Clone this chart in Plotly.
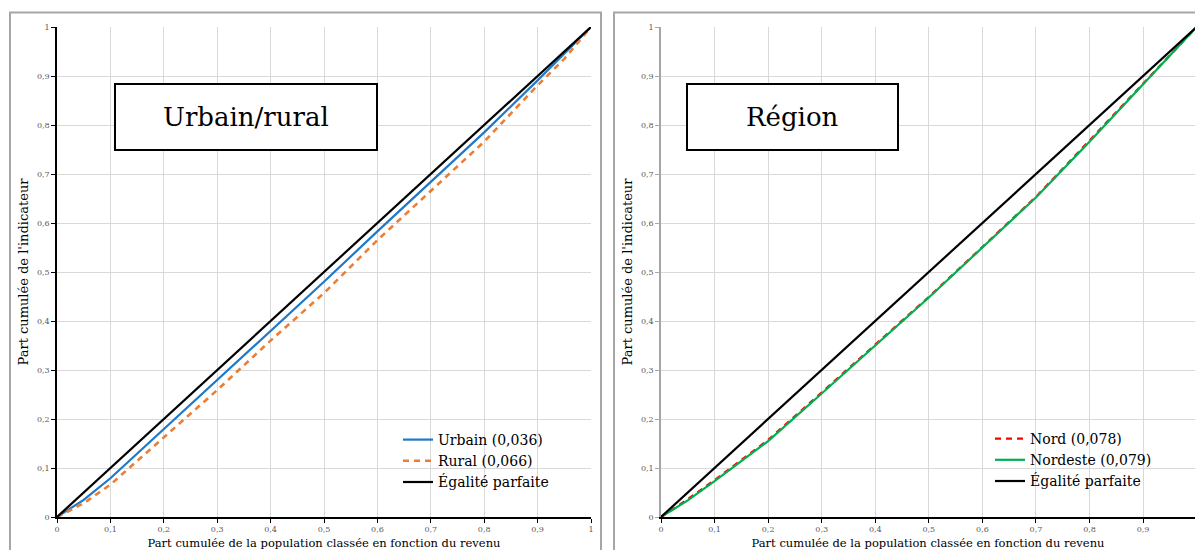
import plotly.graph_objects as go

# Data
p_urb = [0, 0.05, 0.1, 0.2, 0.3, 0.4, 0.5, 0.6, 0.7, 0.8, 0.9, 0.95, 1]
urbain = [0, 0.035, 0.079, 0.179, 0.280, 0.379, 0.480, 0.583, 0.684, 0.785, 0.891, 0.945, 1]
rural = [0, 0.028, 0.066, 0.163, 0.259, 0.360, 0.457, 0.565, 0.666, 0.766, 0.881, 0.935, 1]

p_reg = [0, 0.05, 0.1, 0.2, 0.3, 0.4, 0.5, 0.6, 0.7, 0.8, 0.9, 0.95, 1]
nord = [0, 0.036, 0.075, 0.157, 0.254, 0.351, 0.449, 0.551, 0.653, 0.768, 0.885, 0.943, 1]
nordeste = [0, 0.034, 0.073, 0.155, 0.252, 0.350, 0.448, 0.550, 0.652, 0.766, 0.884, 0.942, 1]

egalite = [0, 1]

tick_vals = [0, 0.1, 0.2, 0.3, 0.4, 0.5, 0.6, 0.7, 0.8, 0.9, 1]
tick_text = ["0", "0,1", "0,2", "0,3", "0,4", "0,5", "0,6", "0,7", "0,8", "0,9", "1"]

labels_left = ["Urbain (0,036)", "Rural (0,066)", "Égalité parfaite"]
labels_right = ["Nord (0,078)", "Nordeste (0,079)", "Égalité parfaite"]
panel_titles = ["Urbain/rural", "Région"]

x_title = "Part cumulée de la population classée en fonction du revenu"
y_title = "Part cumulée de l'indicateur"

W, H = 1195, 550
FONT = "DejaVu Serif"

fig = go.Figure()

fig.add_trace(go.Scatter(x=p_urb, y=urbain, mode="lines", name=labels_left[0],
                         line=dict(color="#1F78C8", width=2.2), xaxis="x", yaxis="y", legend="legend"))
fig.add_trace(go.Scatter(x=p_urb, y=rural, mode="lines", name=labels_left[1],
                         line=dict(color="#ED7D31", width=2.6, dash="6px,5px"), xaxis="x", yaxis="y", legend="legend"))
fig.add_trace(go.Scatter(x=egalite, y=egalite, mode="lines", name=labels_left[2],
                         line=dict(color="#000000", width=2.2), xaxis="x", yaxis="y", legend="legend"))

fig.add_trace(go.Scatter(x=p_reg, y=nord, mode="lines", name=labels_right[0],
                         line=dict(color="#FF0000", width=2.4, dash="6px,5px"), xaxis="x2", yaxis="y2", legend="legend2"))
fig.add_trace(go.Scatter(x=p_reg, y=nordeste, mode="lines", name=labels_right[1],
                         line=dict(color="#00B050", width=2.2), xaxis="x2", yaxis="y2", legend="legend2"))
fig.add_trace(go.Scatter(x=egalite, y=egalite, mode="lines", name=labels_right[2],
                         line=dict(color="#000000", width=2.2), xaxis="x2", yaxis="y2", legend="legend2"))

ydom = [1 - 517 / H, 1 - 27 / H]
xdom1 = [57 / W, 591 / W]
xdom2 = [661 / W, 1.0]

def xaxis(dom, anchor, rng):
    return dict(domain=dom, anchor=anchor, range=rng, tickvals=tick_vals, ticktext=tick_text,
                showgrid=True, gridcolor="#D9D9D9", gridwidth=1, zeroline=False,
                showline=True, linecolor="#000000", linewidth=1.5,
                ticks="outside", ticklen=4, tickcolor="#000000",
                tickfont=dict(family=FONT, size=8, color="#595959"),
                title=dict(text=x_title, font=dict(family=FONT, size=11.5, color="#000000"), standoff=7),
                automargin=False, fixedrange=True)

def yaxis(anchor, linecolor):
    return dict(domain=ydom, anchor=anchor, range=[0, 1], tickvals=tick_vals, ticktext=tick_text,
                showgrid=True, gridcolor="#D9D9D9", gridwidth=1, zeroline=False,
                showline=True, linecolor=linecolor, linewidth=1.5,
                ticks="outside", ticklen=4, tickcolor=linecolor,
                tickfont=dict(family=FONT, size=8, color="#595959"),
                title=dict(text=y_title, font=dict(family=FONT, size=13, color="#000000"), standoff=5),
                automargin=False, fixedrange=True)

legend_common = dict(bgcolor="rgba(0,0,0,0)", borderwidth=0,
                     font=dict(family=FONT, size=14, color="#000000"),
                     tracegroupgap=0, itemwidth=30, yanchor="top", xanchor="left")

fig.update_layout(
    width=W, height=H,
    margin=dict(l=0, r=0, t=0, b=0, autoexpand=False),
    paper_bgcolor="#FFFFFF", plot_bgcolor="#FFFFFF",
    font=dict(family=FONT),
    xaxis=xaxis(xdom1, "y", [0, 1]),
    yaxis=yaxis("x", "#000000"),
    xaxis2=xaxis(xdom2, "y2", [0, 0.997]),
    yaxis2=yaxis("x2", "#A6A6A6"),
    legend=dict(x=398 / W, y=1 - 424 / H, **legend_common),
    legend2=dict(x=990 / W, y=1 - 423 / H, **legend_common),
    showlegend=True,
)

# Panel borders
fig.add_shape(type="rect", xref="paper", yref="paper", x0=10 / W, x1=601 / W, y0=-0.1, y1=1 - 12.5 / H,
              line=dict(color="#A6A6A6", width=2), fillcolor="rgba(0,0,0,0)", layer="below")
fig.add_shape(type="rect", xref="paper", yref="paper", x0=614 / W, x1=1.1, y0=-0.1, y1=1 - 12.5 / H,
              line=dict(color="#A6A6A6", width=2), fillcolor="rgba(0,0,0,0)", layer="below")

# Title boxes
boxes = [(115, 377, panel_titles[0]), (687, 898, panel_titles[1])]
for x0, x1, txt in boxes:
    fig.add_shape(type="rect", xref="paper", yref="paper", x0=x0 / W, x1=x1 / W,
                  y0=1 - 150 / H, y1=1 - 84 / H,
                  line=dict(color="#000000", width=2), fillcolor="#FFFFFF", layer="above")
    fig.add_annotation(xref="paper", yref="paper", x=(x0 + x1) / 2 / W, y=1 - 117 / H,
                       text=txt, showarrow=False, xanchor="center", yanchor="middle",
                       font=dict(family=FONT, size=26, color="#000000"))

fig.write_html("out.html", config={"displayModeBar": False},
               post_script="document.body.style.margin='0px';document.body.style.padding='0px';")
